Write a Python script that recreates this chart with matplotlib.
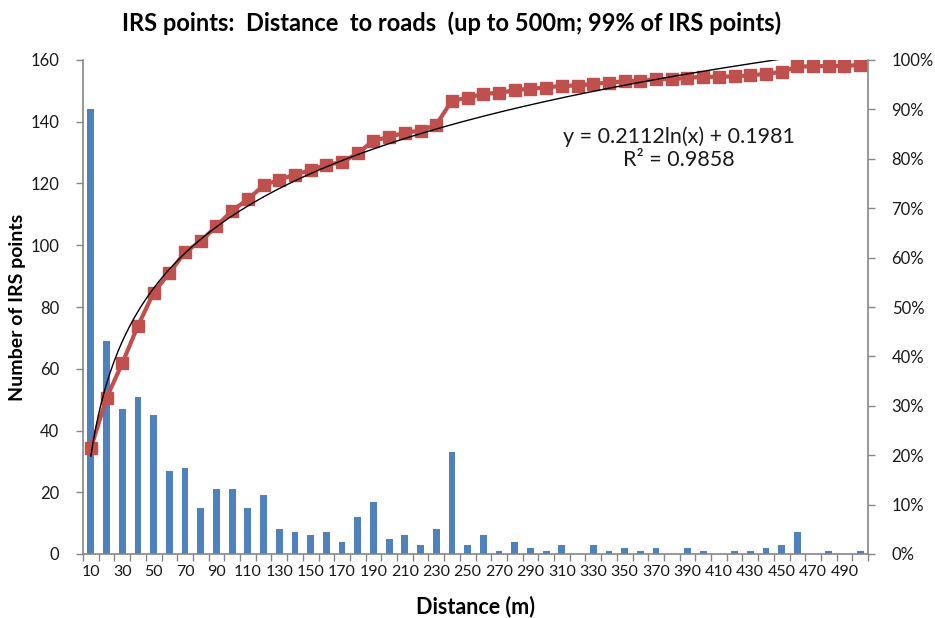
import numpy as np
import matplotlib
matplotlib.use("Agg")
import matplotlib.pyplot as plt
from matplotlib.ticker import FixedLocator, NullFormatter

plt.rcParams["font.family"] = ["Lato", "DejaVu Sans"]

distances = list(range(10, 510, 10))
counts = [144, 69, 47, 51, 45, 27, 28, 15, 21, 21,
          15, 19, 8, 7, 6, 7, 4, 12, 17, 5,
          6, 3, 8, 33, 3, 6, 1, 4, 2, 1,
          3, 0, 3, 1, 2, 1, 2, 0, 2, 1,
          0, 1, 1, 2, 3, 7, 0, 1, 0, 1]
cum_pct = [21.4, 31.6, 38.6, 46.2, 52.9, 56.9, 61.1, 63.3, 66.4, 69.5,
           71.8, 74.6, 75.8, 76.8, 77.7, 78.8, 79.3, 81.1, 83.7, 84.4,
           85.3, 85.7, 86.9, 91.8, 92.3, 93.2, 93.3, 93.9, 94.2, 94.4,
           94.8, 94.8, 95.2, 95.4, 95.7, 95.8, 96.1, 96.1, 96.4, 96.6,
           96.6, 96.7, 96.9, 97.2, 97.6, 98.7, 98.7, 98.8, 98.8, 99.0]
# log trendline shown on the chart: y = 0.2112 ln(x) + 0.1981
trend_a = 0.2112
trend_b = 0.1981

grey = "#868686"
txt = "#1a1a1a"
x = np.arange(1, len(distances) + 1)

fig = plt.figure(figsize=(9.35, 6.18), dpi=100)
ax = fig.add_axes([83 / 935, 64 / 618, 785 / 935, 494 / 618])

ax.bar(x, counts, width=0.43, color="#4F81BD", zorder=2)
ax.set_xlim(0.5, len(x) + 0.5)
ax.set_ylim(0, 160)
ax.set_yticks(range(0, 161, 20))

# tick marks between categories, labels on every other category
ax.xaxis.set_major_locator(FixedLocator(np.arange(0.5, len(x) + 1, 1)))
ax.xaxis.set_major_formatter(NullFormatter())
ax.set_xticks(x[::2], minor=True)
ax.set_xticklabels([str(d) for d in distances[::2]], minor=True)
ax.tick_params(axis="x", which="major", length=5, color=grey, width=1)
ax.tick_params(axis="x", which="minor", length=0, pad=8, labelsize=11.5, labelcolor=txt)
ax.tick_params(axis="y", length=5, color=grey, width=1, pad=12, labelsize=12, labelcolor=txt)

for s in ["top", "right"]:
    ax.spines[s].set_visible(False)
for s in ["left", "bottom"]:
    ax.spines[s].set_color(grey)
    ax.spines[s].set_linewidth(1.2)

ax2 = ax.twinx()
ax2.plot(x, np.array(cum_pct) / 100, color="#C0504D", linewidth=3,
         marker="s", markersize=8, zorder=3)
xt = np.linspace(1, len(x), 400)
ax2.plot(xt, trend_a * np.log(xt) + trend_b, color="black", linewidth=1.0, zorder=4)
ax2.set_ylim(0, 1)
ax2.set_yticks(np.arange(0, 1.01, 0.1))
ax2.set_yticklabels([f"{int(round(v * 100))}%" for v in np.arange(0, 1.01, 0.1)])
ax2.tick_params(axis="y", length=5, color=grey, width=1, pad=12, labelsize=12, labelcolor=txt)
for s in ["top", "left", "bottom"]:
    ax2.spines[s].set_visible(False)
ax2.spines["right"].set_color(grey)
ax2.spines["right"].set_linewidth(1.2)

ax2.text(0.759, 0.822, "y = 0.2112ln(x) + 0.1981\nR² = 0.9858", transform=ax2.transAxes,
         ha="center", va="center", fontsize=15.5, linespacing=1.2, color=txt)

fig.text(452 / 935, 1 - 23 / 618, "IRS points:  Distance  to roads  (up to 500m; 99% of IRS points)",
         ha="center", va="center", fontsize=17, fontweight="bold")
fig.text(475 / 935, 1 - 607 / 618, "Distance (m)", ha="center", va="center",
         fontsize=15.5, fontweight="bold")
fig.text(18 / 935, 1 - 307 / 618, "Number of IRS points", ha="center", va="center",
         rotation=90, fontsize=14, fontweight="bold")

fig.savefig("out.png", dpi=100)
